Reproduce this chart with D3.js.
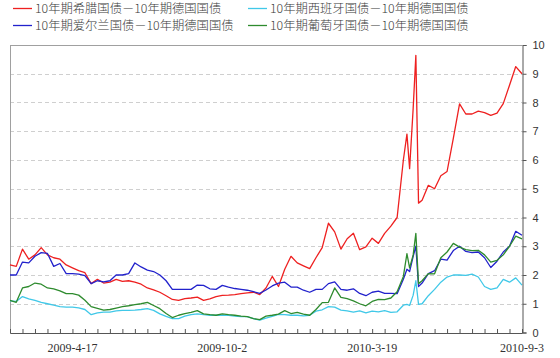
<!DOCTYPE html>
<html>
<head>
<meta charset="utf-8">
<script src="https://cdn.jsdelivr.net/npm/d3@7"></script>
<style>
  html, body { margin: 0; padding: 0; background: #fff; }
  svg { display: block; }
</style>
</head>
<body>
<svg id="chart" width="560" height="358"></svg>
<script>
// ---------- data ----------
const dates = [
  "2009-02-06","2009-02-13","2009-02-20","2009-02-27","2009-03-06","2009-03-13","2009-03-20","2009-03-27","2009-04-03","2009-04-10",
  "2009-04-17","2009-04-24","2009-05-01","2009-05-08","2009-05-15","2009-05-22","2009-05-29","2009-06-05","2009-06-12","2009-06-19",
  "2009-06-26","2009-07-03","2009-07-10","2009-07-17","2009-07-24","2009-07-31","2009-08-07","2009-08-14","2009-08-21","2009-08-28",
  "2009-09-04","2009-09-11","2009-09-18","2009-09-25","2009-10-02","2009-10-09","2009-10-16","2009-10-23","2009-10-30","2009-11-06",
  "2009-11-13","2009-11-20","2009-11-27","2009-12-04","2009-12-11","2009-12-18","2009-12-25","2010-01-01","2010-01-08","2010-01-15",
  "2010-01-22","2010-01-29","2010-02-05","2010-02-12","2010-02-19","2010-02-26","2010-03-05","2010-03-12","2010-03-19","2010-03-26",
  "2010-04-02","2010-04-09","2010-04-16","2010-04-23","2010-04-27","2010-04-30","2010-05-04","2010-05-07","2010-05-10","2010-05-14",
  "2010-05-21","2010-05-28","2010-06-04","2010-06-11","2010-06-18","2010-06-25","2010-07-02","2010-07-09","2010-07-16","2010-07-23",
  "2010-07-30","2010-08-06","2010-08-13","2010-08-20","2010-08-27","2010-09-03"
];

const greece = [
  2.35,2.3,2.9,2.55,2.7,2.95,2.7,2.6,2.55,2.35,
  2.25,2.15,2.08,1.7,1.85,1.72,1.75,1.85,1.78,1.8,
  1.75,1.68,1.55,1.48,1.4,1.28,1.15,1.12,1.18,1.2,
  1.23,1.12,1.17,1.25,1.29,1.3,1.32,1.35,1.38,1.4,
  1.32,1.55,1.95,1.6,2.2,2.65,2.42,2.32,2.22,2.6,
  2.95,3.8,3.5,2.9,3.26,3.45,2.88,2.98,3.28,3.1,
  3.45,3.7,4.0,6.0,6.9,5.7,7.8,9.64,4.5,4.6,
  5.12,5.0,5.45,5.6,6.75,7.95,7.6,7.6,7.7,7.65,
  7.55,7.63,7.96,8.6,9.25,9.0
];

const spain = [
  1.1,1.08,1.25,1.17,1.12,1.05,1.0,0.95,0.9,0.88,
  0.88,0.86,0.8,0.62,0.68,0.71,0.71,0.75,0.77,0.77,
  0.78,0.8,0.83,0.77,0.65,0.56,0.48,0.48,0.57,0.62,
  0.65,0.62,0.6,0.6,0.6,0.6,0.57,0.55,0.55,0.48,
  0.43,0.5,0.56,0.63,0.62,0.6,0.6,0.58,0.6,0.74,
  0.79,0.9,0.88,0.78,0.75,0.71,0.75,0.68,0.74,0.72,
  0.76,0.7,0.72,0.95,0.98,0.94,1.3,1.8,0.98,1.0,
  1.28,1.5,1.75,1.93,2.0,2.0,1.99,2.03,1.93,1.6,
  1.5,1.55,1.85,1.75,1.9,1.65
];

const ireland = [
  2.0,2.0,2.45,2.42,2.65,2.78,2.75,2.3,2.4,2.05,
  2.05,2.03,1.98,1.7,1.8,1.76,1.8,2.0,2.0,2.05,
  2.42,2.28,2.17,2.12,2.0,1.8,1.5,1.5,1.5,1.5,
  1.65,1.64,1.52,1.5,1.64,1.58,1.53,1.5,1.47,1.42,
  1.36,1.48,1.62,1.72,1.75,1.58,1.58,1.47,1.4,1.5,
  1.5,1.7,1.76,1.5,1.47,1.52,1.36,1.28,1.4,1.44,
  1.36,1.36,1.35,1.85,2.2,2.12,2.65,3.0,1.6,1.72,
  2.05,2.15,2.55,2.52,2.85,3.0,2.82,2.78,2.8,2.6,
  2.26,2.48,2.8,3.0,3.52,3.38
];

const portugal = [
  1.12,1.05,1.55,1.6,1.72,1.68,1.55,1.52,1.45,1.35,
  1.35,1.3,1.12,0.9,0.84,0.78,0.8,0.85,0.9,0.93,
  0.97,1.0,1.05,0.94,0.83,0.66,0.52,0.6,0.66,0.7,
  0.76,0.65,0.62,0.6,0.65,0.62,0.6,0.57,0.55,0.48,
  0.45,0.57,0.6,0.64,0.76,0.66,0.7,0.64,0.6,0.8,
  1.04,1.05,1.55,1.22,1.18,1.1,1.0,0.93,1.08,1.15,
  1.14,1.2,1.42,1.95,2.74,2.25,2.7,3.45,1.7,1.8,
  2.05,2.04,2.6,2.8,3.1,2.97,2.88,2.85,2.86,2.7,
  2.45,2.51,2.7,3.0,3.35,3.26
];

const seriesNames = [
  "10年期希腊国债－10年期德国国债",
  "10年期西班牙国债－10年期德国国债",
  "10年期爱尔兰国债－10年期德国国债",
  "10年期葡萄牙国债－10年期德国国债"
];
const seriesColors = ["#ee2020", "#40c8e8", "#2222cc", "#2e8b2e"];
const yTicks = [0,1,2,3,4,5,6,7,8,9,10];
const xLabels = ["2009-4-17","2009-10-2","2010-3-19","2010-9-3"];
const xStart = "2009-02-06", xEnd = "2010-09-03";

// ---------- chart ----------
const parse = d3.timeParse("%Y-%m-%d");
const svg = d3.select("#chart");
const L = 10, R = 522, T = 45, B = 332.5;

const x = d3.scaleTime().domain([parse(xStart), parse(xEnd)]).range([L, R]);
const y = d3.scaleLinear().domain([0, 10]).range([B, T]);

// gridlines
svg.append("g").selectAll("line")
  .data(yTicks.filter(v => v > 0 && v < 10))
  .join("line")
  .attr("x1", L).attr("x2", R)
  .attr("y1", d => Math.round(y(d)) + 0.5).attr("y2", d => Math.round(y(d)) + 0.5)
  .attr("stroke", "#cfcfcf").attr("stroke-width", 1)
  .attr("stroke-dasharray", "4,3");

// frame top & left
svg.append("line").attr("x1", L).attr("x2", R).attr("y1", T + 0.5).attr("y2", T + 0.5)
  .attr("stroke", "#a0a0a0");
svg.append("line").attr("x1", L + 0.5).attr("x2", L + 0.5).attr("y1", T).attr("y2", B)
  .attr("stroke", "#a0a0a0");

// lines
const parsedDates = dates.map(parse);
const allSeries = [greece, spain, ireland, portugal];
const line = d3.line()
  .x((d, i) => x(parsedDates[i]))
  .y(d => y(d));

allSeries.forEach((s, si) => {
  svg.append("path")
    .datum(s)
    .attr("fill", "none")
    .attr("stroke", seriesColors[si])
    .attr("stroke-width", 1.3)
    .attr("stroke-linejoin", "round")
    .attr("d", line);
});

// right axis
const yAxis = d3.axisRight(y).tickValues(yTicks).tickSize(4).tickPadding(6).tickFormat(d3.format("d"));
const gy = svg.append("g").attr("transform", `translate(${R + 0.5},0)`).call(yAxis);
gy.select(".domain").attr("stroke", "#555");
gy.selectAll(".tick line").attr("stroke", "#555");
gy.selectAll("text").attr("font-family", "Liberation Sans, Arial, sans-serif")
  .attr("font-size", 11).attr("fill", "#333");

// bottom axis
const tickDates = d3.timeDay.range(parse(xStart), d3.timeDay.offset(parse(xEnd), 1), 14);
const xAxis = d3.axisBottom(x).tickValues(tickDates).tickSize(-4).tickFormat("");
const gx = svg.append("g").attr("transform", `translate(0,${B + 0.5})`).call(xAxis);
gx.select(".domain").attr("stroke", "#555");
gx.selectAll(".tick line").attr("stroke", "#555");

svg.append("g").selectAll("text")
  .data(xLabels)
  .join("text")
  .attr("x", d => x(parse(d)))
  .attr("y", 352)
  .attr("text-anchor", "middle")
  .attr("font-family", "Liberation Serif, serif")
  .attr("font-size", 12)
  .attr("fill", "#333")
  .text(d => d);

// legend
const legendPos = [[13, 8], [248, 8], [13, 25], [248, 25]];
const lg = svg.append("g");
seriesNames.forEach((name, i) => {
  const [lx, ly] = legendPos[i];
  lg.append("line").attr("x1", lx).attr("x2", lx + 19).attr("y1", ly + 0.5).attr("y2", ly + 0.5)
    .attr("stroke", seriesColors[i]).attr("stroke-width", 1.3);
  lg.append("text").attr("x", lx + 22).attr("y", ly + 4.5)
    .attr("font-family", "Noto Sans CJK SC, sans-serif")
    .attr("font-weight", 300)
    .attr("font-size", 12.3).attr("fill", "#3a3a3a")
    .text(name);
});
</script>
</body>
</html>
